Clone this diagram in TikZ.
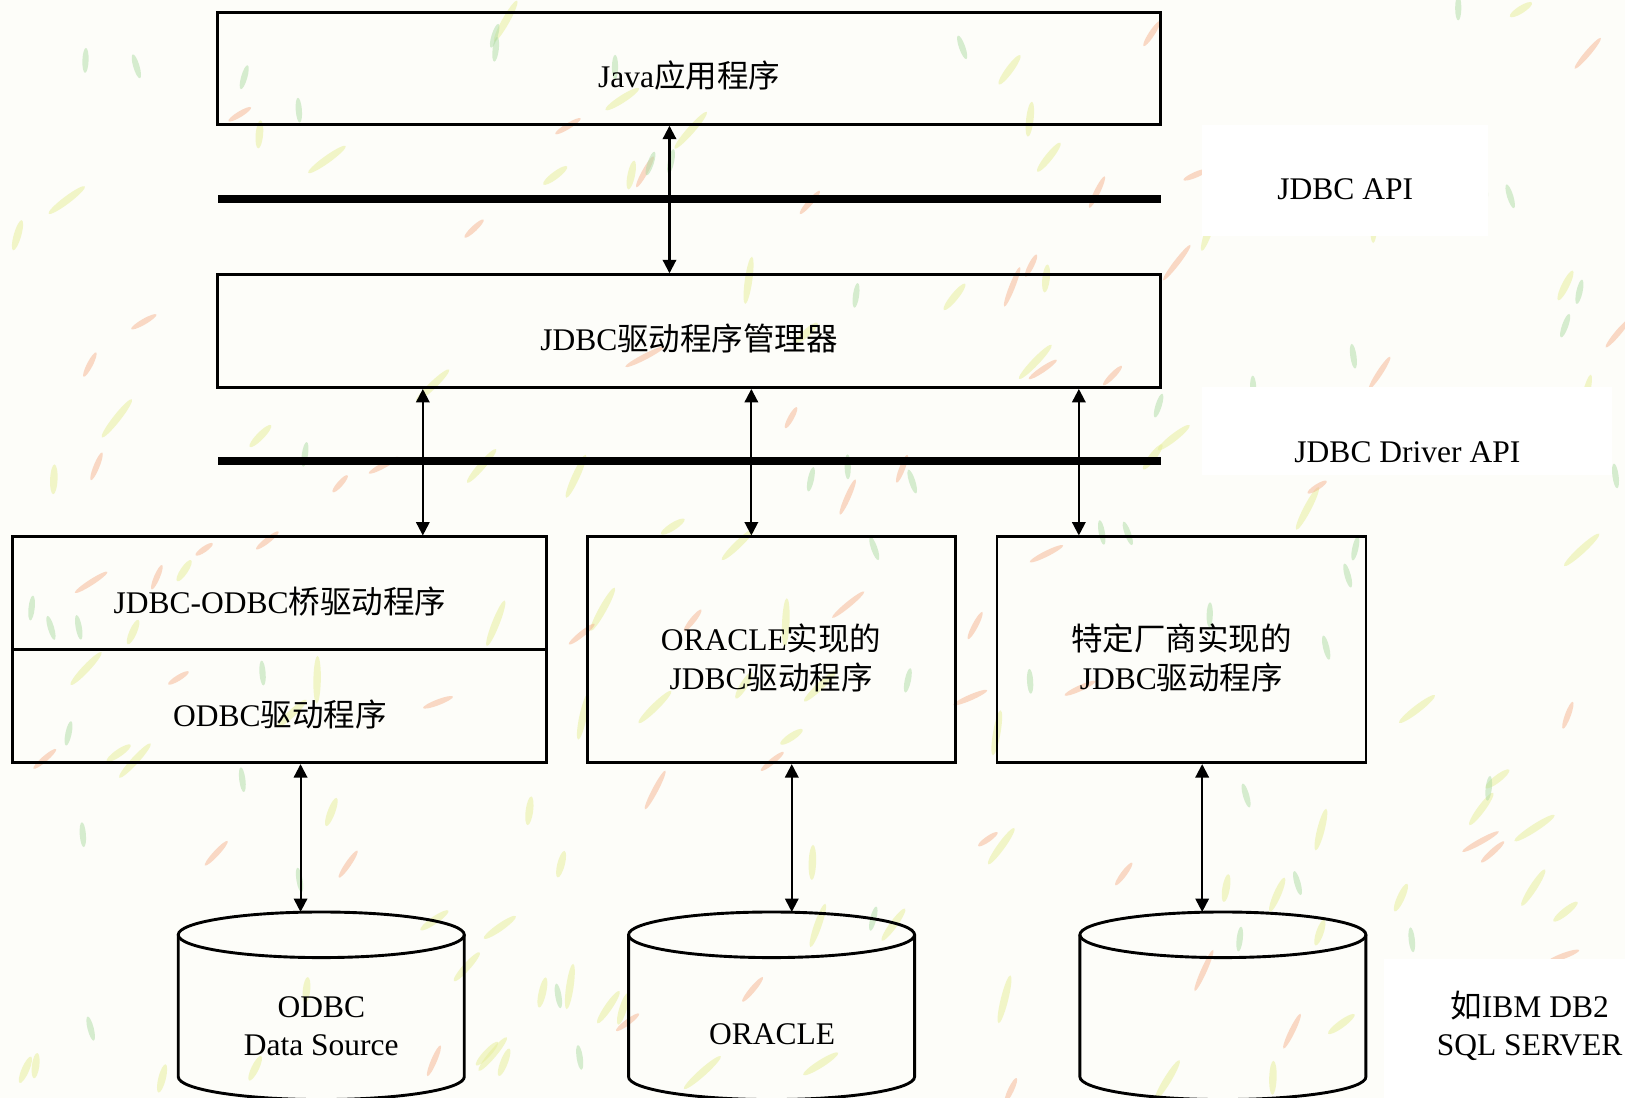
\documentclass[tikz,border=0pt]{standalone}
\usepackage{fontspec}
\setmainfont{Liberation Serif}
\newfontfamily\cjk{Noto Sans CJK SC}
\newcommand\zh[1]{{\cjk #1}}
\usetikzlibrary{arrows.meta}
\definecolor{bgcol}{RGB}{253,253,249}
\definecolor{stY}{RGB}{230,238,150}
\definecolor{stO}{RGB}{246,180,145}
\definecolor{stG}{RGB}{175,220,165}
\newcommand\dbcyl[2]{%
  \draw[cyl] (#1-138,902) -- (#1-138,1039)
     arc[start angle=180,end angle=360,x radius=69pt,y radius=11pt] -- (#1+138,902);
  \draw[cyl] (#1,902) ellipse (69pt and 11pt);
  \coordinate (#2) at (#1,902);
}
\begin{document}
\begin{tikzpicture}[x=0.5pt,y=-0.5pt,
  font=\fontsize{15.2pt}{18.5pt}\selectfont,
  box/.style={draw, line width=1.3pt, inner sep=0pt},
  bar/.style={fill=black, inner sep=0pt, minimum width=455pt, minimum height=4pt},
  txt/.style={inner sep=0pt, align=center},
  dbl/.style={line width=1pt, {Triangle[length=6.5pt,width=6.5pt]}-{Triangle[length=6.5pt,width=6.5pt]}},
  cyl/.style={line width=1.4pt},
  streak/.style={opacity=0.5}]
\useasboundingbox (0,0) rectangle (1568,1059);
% background texture
\fill[bgcol] (0,0) rectangle (1568,1059);
\pgfmathsetseed{12}
\foreach \i in {1,...,90}{
  \pgfmathsetmacro\px{rnd*1568}
  \pgfmathsetmacro\py{rnd*1059}
  \pgfmathsetmacro\an{30+rnd*60}
  \pgfmathsetmacro\ln{6+rnd*6}
  \fill[stY, streak, rotate around={\an:(\px,\py)}] (\px,\py) ellipse (\ln pt and 1.8pt);
}
\foreach \i in {1,...,60}{
  \pgfmathsetmacro\px{rnd*1568}
  \pgfmathsetmacro\py{rnd*1059}
  \pgfmathsetmacro\an{20+rnd*50}
  \pgfmathsetmacro\ln{5+rnd*6}
  \fill[stO, streak, rotate around={\an:(\px,\py)}] (\px,\py) ellipse (\ln pt and 1.4pt);
}
\foreach \i in {1,...,50}{
  \pgfmathsetmacro\px{rnd*1568}
  \pgfmathsetmacro\py{rnd*1059}
  \pgfmathsetmacro\an{70+rnd*40}
  \fill[stG, streak, rotate around={\an:(\px,\py)}] (\px,\py) ellipse (6pt and 1.5pt);
}
% white patches behind side labels
\fill[white] (1160,121) rectangle (1436,228);
\fill[white] (1160,373) rectangle (1555,458);
\fill[white] (1335,925) rectangle (1568,1059);

% boxes
\node[box, minimum width=455pt, minimum height=54pt] (java) at (665,66) {};
\node[box, minimum width=455pt, minimum height=54.5pt] (mgr) at (665,319.5) {};
\node[box, minimum width=257.5pt, minimum height=54.5pt] (bridge) at (269.5,572.5) {};
\node[box, minimum width=257.5pt, minimum height=54.5pt] (odbc) at (269.5,681.5) {};
\node[box, minimum width=177.5pt, minimum height=109pt] (ora) at (744.5,627) {};
\node[box, minimum width=178pt, minimum height=109pt] (vend) at (1140,627) {};

% bars
\node[bar] (apibar) at (665,192) {};
\node[bar] (drvbar) at (665,445) {};

% texts
\node[txt] (tjava) at (665,73) {Java\zh{应用程序}};
\node[txt] (tmgr) at (665,327) {JDBC\zh{驱动程序管理器}};
\node[txt] (tbridge) at (270,580) {JDBC-ODBC\zh{桥驱动程序}};
\node[txt] (todbc) at (270,689) {ODBC\zh{驱动程序}};
\node[txt] (tora) at (744,635) {ORACLE\zh{实现的}\\JDBC\zh{驱动程序}};
\node[txt] (tvend) at (1140,635) {\zh{特定厂商实现的}\\JDBC\zh{驱动程序}};
\node[txt] (lapi) at (1298,183) {JDBC API};
\node[txt] (ldrv) at (1358,436) {JDBC Driver API};

% cylinders
\dbcyl{310}{db1}
\dbcyl{744.5}{db2}
\dbcyl{1180}{db3}
\node[txt] (tdb1) at (310,990) {ODBC\\Data Source};
\node[txt] (tdb2) at (745,998) {ORACLE};
\node[txt] (ldb3) at (1476,990) {\zh{如}IBM DB2\\SQL SERVER};

% arrows
\coordinate (c0) at (646,0);
\coordinate (c1) at (408,0);
\coordinate (c2) at (725,0);
\coordinate (c3) at (1041,0);
\coordinate (e1) at (290,880);
\coordinate (e2) at (764,880);
\coordinate (e3) at (1160,880);
\draw[dbl] (java.south -| c0) -- (mgr.north -| c0);
\draw[dbl] (mgr.south -| c1) -- (bridge.north -| c1);
\draw[dbl] (mgr.south -| c2) -- (ora.north -| c2);
\draw[dbl] (mgr.south -| c3) -- (vend.north -| c3);
\draw[dbl] (odbc.south -| e1) -- (e1);
\draw[dbl] (ora.south -| e2) -- (e2);
\draw[dbl] (vend.south -| e3) -- (e3);
\end{tikzpicture}
\end{document}
